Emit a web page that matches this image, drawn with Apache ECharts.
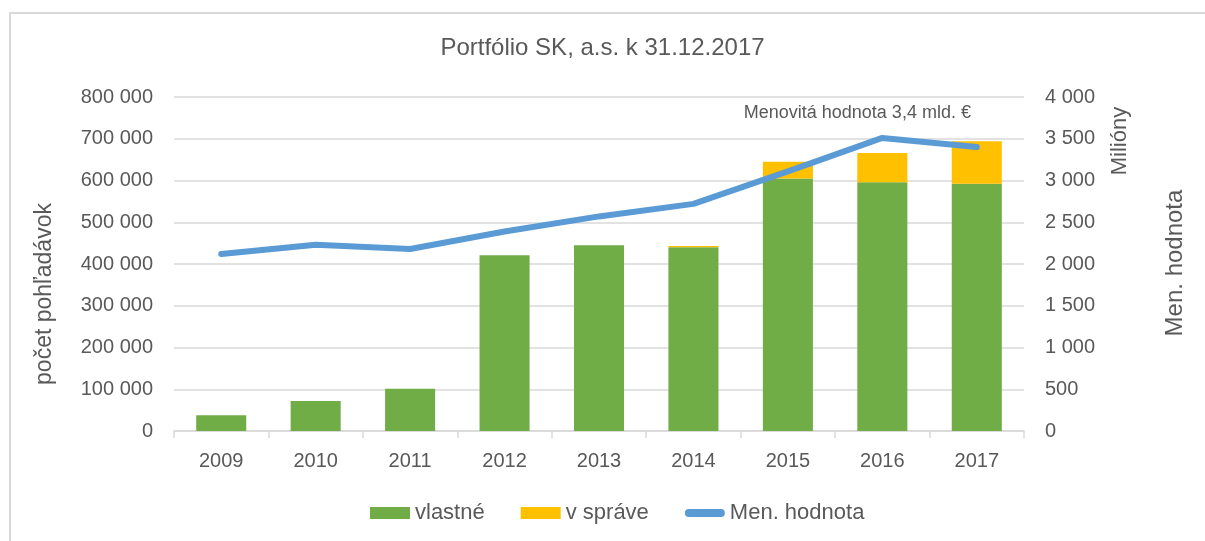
<!DOCTYPE html>
<html>
<head>
<meta charset="utf-8">
<script src="https://cdn.jsdelivr.net/npm/echarts@6/dist/echarts.min.js"></script>
<style>
html,body{margin:0;padding:0;background:#fff;}
#c{width:1205px;height:541px;}
</style>
</head>
<body>
<div id="c"></div>
<script>
const years = ['2009','2010','2011','2012','2013','2014','2015','2016','2017'];
const vlastne = [38000, 72000, 101000, 421000, 445000, 440000, 605000, 596000, 592000];
const vSprave = [0, 0, 0, 0, 0, 3000, 40000, 70000, 102000];
const menHodnota = [2120, 2230, 2180, 2390, 2570, 2720, 3110, 3510, 3400];
const titleText = 'Portfólio SK, a.s. k 31.12.2017';
const leftAxisName = 'počet pohľadávok';
const rightAxisUnit = 'Milióny';
const rightAxisName = 'Men. hodnota';
const annotation = 'Menovitá hodnota 3,4 mld. €';

const FONT = '"Liberation Sans", Arial, sans-serif';
const TXT = '#595959';
const fmt = v => String(v).replace(/\B(?=(\d{3})+(?!\d))/g, ' ');

const chart = echarts.init(document.getElementById('c'), null, {renderer: 'canvas'});
chart.setOption({
  backgroundColor: '#ffffff',
  animation: false,
  textStyle: {fontFamily: FONT, color: TXT},
  title: {
    text: titleText, left: 'center', top: 31,
    textStyle: {fontFamily: FONT, fontSize: 24, fontWeight: 'normal', color: TXT}
  },
  grid: {left: 174, right: 181, top: 97, bottom: 110},
  legend: {
    bottom: 12, left: 365, itemWidth: 40, itemHeight: 12, itemGap: 36,
    textStyle: {fontFamily: FONT, fontSize: 22, color: TXT},
    data: [
      {name: 'vlastné', icon: 'rect'},
      {name: 'v správe', icon: 'rect'},
      {name: 'Men. hodnota', icon: 'path://M4,0 L36,0 A4,4 0 0 1 36,8 L4,8 A4,4 0 0 1 4,0 Z'}
    ]
  },
  xAxis: {
    type: 'category', data: years,
    axisLine: {lineStyle: {color: '#D9D9D9', width: 1.5}},
    axisTick: {show: true, length: 7, lineStyle: {color: '#D9D9D9', width: 1.5}},
    axisLabel: {fontFamily: FONT, fontSize: 20, color: TXT, margin: 20}
  },
  yAxis: [
    {
      type: 'value', min: 0, max: 800000, interval: 100000,
      axisLine: {show: false}, axisTick: {show: false},
      splitLine: {lineStyle: {color: '#D9D9D9', width: 1.5}},
      axisLabel: {fontFamily: FONT, fontSize: 20, color: TXT, margin: 21, formatter: fmt}
    },
    {
      type: 'value', min: 0, max: 4000, interval: 500, position: 'right',
      axisLine: {show: false}, axisTick: {show: false},
      splitLine: {show: false},
      axisLabel: {fontFamily: FONT, fontSize: 20, color: TXT, margin: 21, formatter: fmt}
    }
  ],
  series: [
    {
      name: 'vlastné', type: 'bar', stack: 'a', yAxisIndex: 0, barWidth: '53%',
      itemStyle: {color: '#70AD47'}, data: vlastne
    },
    {
      name: 'v správe', type: 'bar', stack: 'a', yAxisIndex: 0, barWidth: '53%',
      itemStyle: {color: '#FFC000'}, data: vSprave
    },
    {
      name: 'Men. hodnota', type: 'line', yAxisIndex: 1, symbol: 'circle', symbolSize: 1, showSymbol: true,
      lineStyle: {color: '#5B9BD5', width: 6, cap: 'round', join: 'round'},
      itemStyle: {color: '#5B9BD5'},
      data: menHodnota.map((v, i) => i === 7 ? {
        value: v,
        label: {show: true, position: 'top', distance: 15, offset: [-25, 0],
          formatter: annotation, fontFamily: FONT, fontSize: 18, color: TXT}
      } : v)
    }
  ],
  graphic: [
    {type: 'rect', shape: {x: 9, y: 12, width: 1200, height: 2}, style: {fill: '#D9D9D9'}, silent: true},
    {type: 'rect', shape: {x: 9, y: 12, width: 2, height: 535}, style: {fill: '#D9D9D9'}, silent: true},
    {type: 'text', x: 45, y: 294, rotation: Math.PI / 2,
      style: {text: leftAxisName, fontFamily: FONT, fontSize: 23, fill: TXT, textAlign: 'center', textVerticalAlign: 'middle'}},
    {type: 'text', x: 1120, y: 141, rotation: Math.PI / 2,
      style: {text: rightAxisUnit, fontFamily: FONT, fontSize: 22, fill: TXT, textAlign: 'center', textVerticalAlign: 'middle'}},
    {type: 'text', x: 1175, y: 263, rotation: Math.PI / 2,
      style: {text: rightAxisName, fontFamily: FONT, fontSize: 24, fill: TXT, textAlign: 'center', textVerticalAlign: 'middle'}}
  ]
});
</script>
</body>
</html>
